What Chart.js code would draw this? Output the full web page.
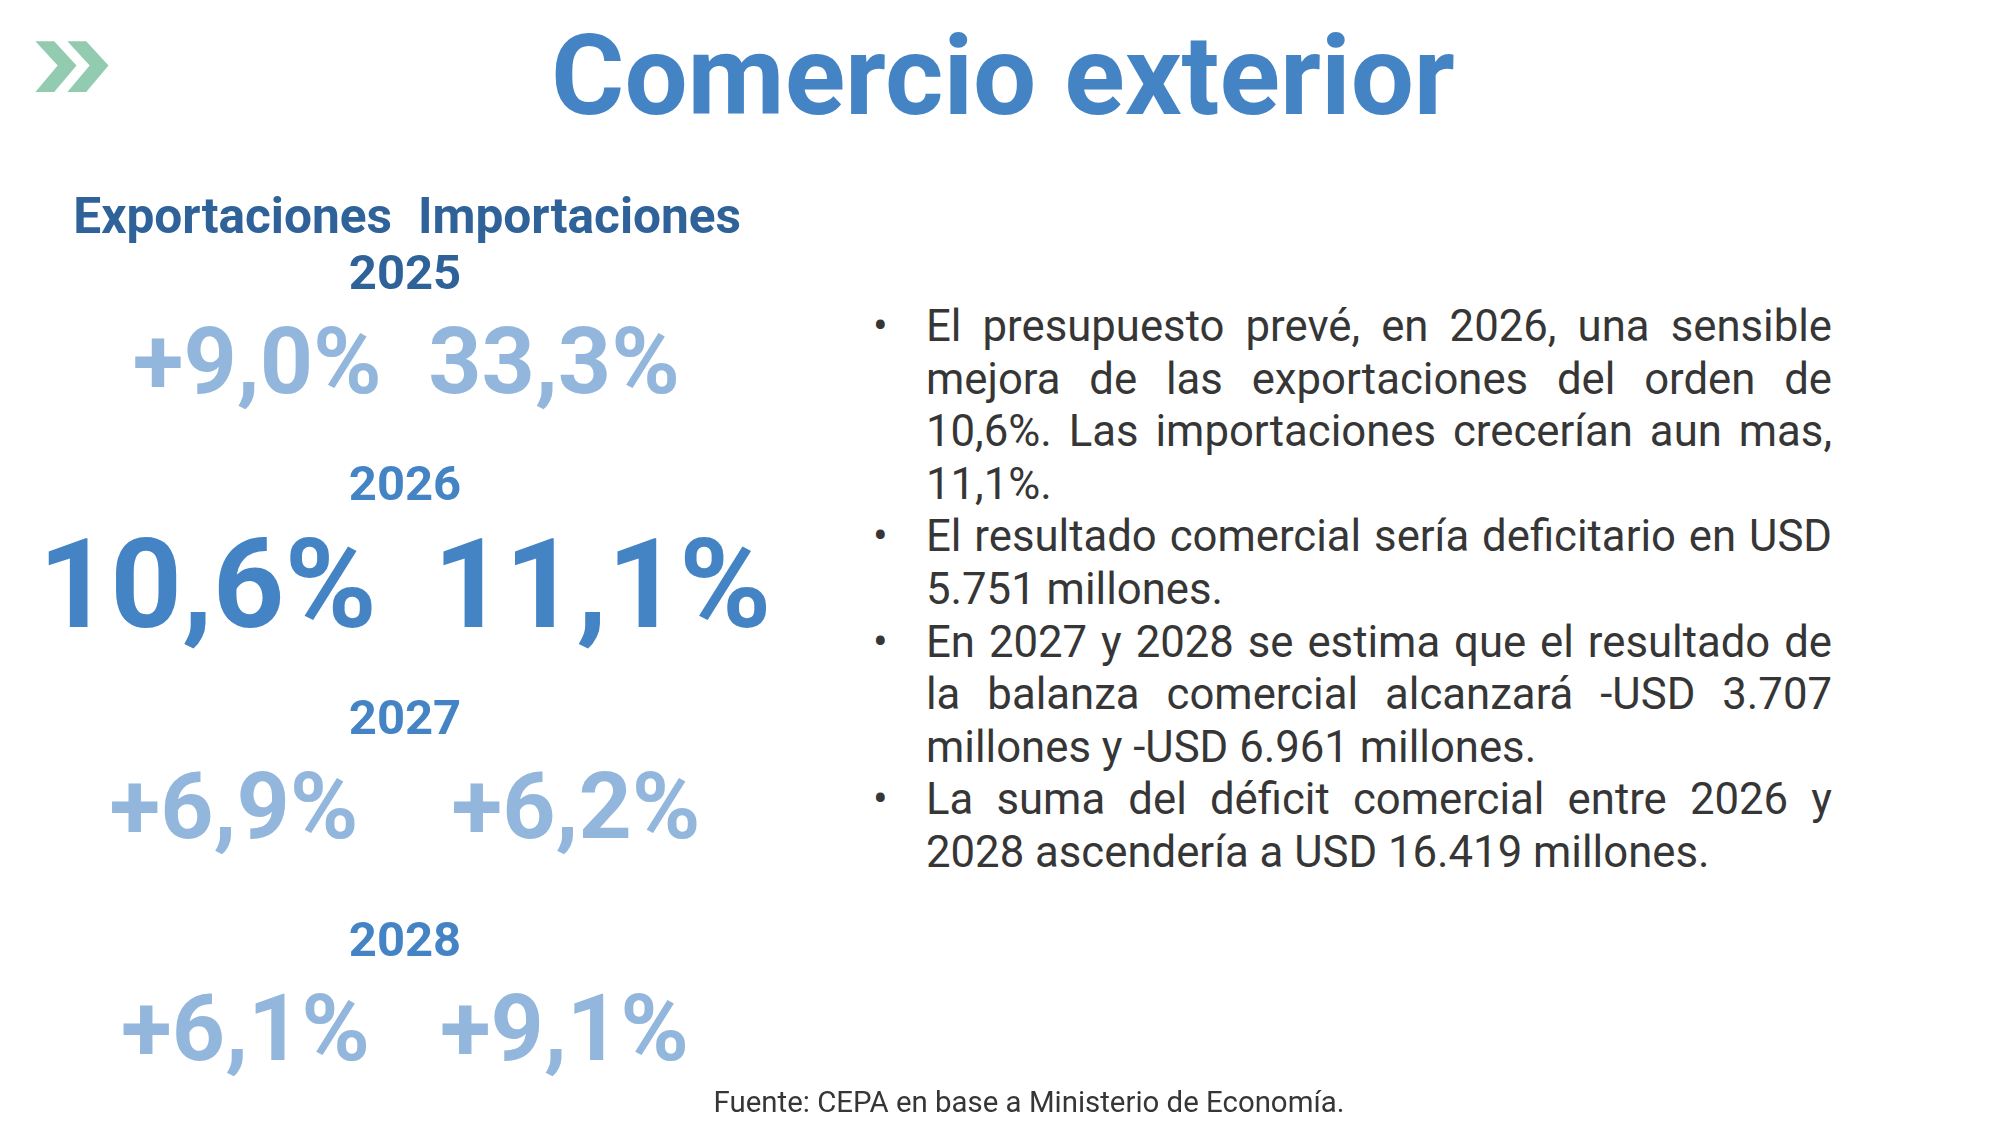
<!DOCTYPE html>
<html lang="es">
<head>
<meta charset="utf-8">
<title>Comercio exterior</title>
<script src="https://cdn.jsdelivr.net/npm/chart.js@4"></script>
<style>
  html, body { margin: 0; padding: 0; background: #fff; }
  body { width: 2000px; height: 1125px; position: relative; overflow: hidden; font-family: Roboto, "Noto Sans", sans-serif; }
  #chevrons { position: absolute; left: 0; top: 0; }
  #titulo {
    position: absolute; top: 20px; left: 1003px; transform: translateX(-50%);
    margin: 0; font-size: 112px; line-height: 1; font-weight: 700; color: #4584c4; white-space: nowrap;
  }
  #panel { position: absolute; left: 0; top: 0; }
  #puntos {
    position: absolute; left: 926px; top: 300px; width: 906px; margin: 0; padding: 0;
    list-style: none; font-size: 43.7px; line-height: 52.6px; color: #363636; text-align: justify;
  }
  #puntos li { position: relative; }
  #puntos li::before { content: "\2022"; position: absolute; left: -53px; }
  #fuente {
    position: absolute; top: 1088px; left: 1029px; transform: translateX(-50%);
    font-size: 29.4px; line-height: 1; color: #363636; white-space: nowrap;
  }
</style>
</head>
<body>
<svg id="chevrons" width="130" height="110">
  <polygon points="35.4,41.2 54.2,41.2 76.5,65.5 54.2,92 35.4,92 57.7,65.5" fill="#93cbb0"/>
  <polygon points="67.4,41.2 86.2,41.2 108.5,65.5 86.2,92 67.4,92 89.7,65.5" fill="#93cbb0"/>
</svg>
<h1 id="titulo">Comercio exterior</h1>
<canvas id="panel" width="810" height="1125"></canvas>
<ul id="puntos">
  <li>El presupuesto prevé, en 2026, una sensible mejora de las exportaciones del orden de 10,6%. Las importaciones crecerían aun mas, 11,1%.</li>
  <li>El resultado comercial sería deficitario en USD 5.751 millones.</li>
  <li>En 2027 y 2028 se estima que el resultado de la balanza comercial alcanzará -USD 3.707 millones y -USD 6.961 millones.</li>
  <li>La suma del déficit comercial entre 2026 y 2028 ascendería a USD 16.419 millones.</li>
</ul>
<div id="fuente">Fuente: CEPA en base a Ministerio de Economía.</div>
<script>
// variación anual (%)
const years = ['2025', '2026', '2027', '2028'];
const columnas = ['Exportaciones', 'Importaciones'];
const exportaciones = [9.0, 10.6, 6.9, 6.1];
const importaciones = [33.3, 11.1, 6.2, 9.1];
// si la cifra se muestra con "+"
const exportSigno = [true, false, true, true];
const importSigno = [false, false, true, true];
const destacado = '2026';

function fmt(v, signo) {
  return (signo ? '+' : '') + v.toFixed(1).replace('.', ',') + '%';
}

const colores = {
  oscuro: '#2e6299',
  medio: '#4584c4',
  claro: '#93b7dc',
};
// espacio entre columnas, en em de cada fila
const separacion = [0.5, 0.45, 1.0, 0.75];

const rowText = {
  id: 'rowText',
  afterDatasetsDraw(chart) {
    const ctx = chart.ctx;
    const exp = chart.getDatasetMeta(0).data;
    const imp = chart.getDatasetMeta(1).data;
    ctx.save();
    let firstYearBase = 0;
    years.forEach((year, i) => {
      const y = exp[i].y;
      const cx = (exp[i].x + imp[i].x) / 2;
      const big = year === destacado;
      const size = big ? 125 : 93;
      const cap = size * 0.711;
      const gap = separacion[i] * size;
      ctx.font = `700 ${size}px Roboto`;
      ctx.fillStyle = big ? colores.medio : colores.claro;
      ctx.textBaseline = 'alphabetic';
      ctx.textAlign = 'right';
      ctx.fillText(fmt(chart.data.datasets[0].data[i].v, exportSigno[i]), cx - gap / 2, y + cap / 2);
      ctx.textAlign = 'left';
      ctx.fillText(fmt(chart.data.datasets[1].data[i].v, importSigno[i]), cx + gap / 2, y + cap / 2);

      const yearBase = y - cap / 2 - 38;
      if (i === 0) firstYearBase = yearBase;
      ctx.font = '700 49px Roboto';
      ctx.fillStyle = i === 0 ? colores.oscuro : colores.medio;
      ctx.textAlign = 'center';
      ctx.fillText(year, cx, yearBase);
    });
    // encabezado de columnas
    const hx = (exp[0].x + imp[0].x) / 2;
    ctx.font = '700 49.6px Roboto';
    ctx.fillStyle = colores.oscuro;
    ctx.textAlign = 'right';
    ctx.fillText(chart.data.datasets[0].label, hx - 13, firstYearBase - 56);
    ctx.textAlign = 'left';
    ctx.fillText(chart.data.datasets[1].label, hx + 13, firstYearBase - 56);
    ctx.restore();
  },
};

function draw() {
  new Chart(document.getElementById('panel'), {
    type: 'scatter',
    data: {
      datasets: [
        {
          label: columnas[0],
          data: years.map((y, i) => ({ x: columnas[0], y, v: exportaciones[i] })),
          pointRadius: 0,
        },
        {
          label: columnas[1],
          data: years.map((y, i) => ({ x: columnas[1], y, v: importaciones[i] })),
          pointRadius: 0,
        },
      ],
    },
    options: {
      responsive: false,
      animation: false,
      layout: { padding: { top: 360, bottom: 98, left: 0, right: 0 } },
      scales: {
        x: { type: 'category', labels: columnas, offset: true, display: false },
        y: { type: 'category', labels: years, offset: false, display: false },
      },
      plugins: {
        legend: { display: false },
        tooltip: { enabled: false },
      },
    },
    plugins: [rowText],
  });
}

if (document.fonts && document.fonts.load) {
  Promise.all([
    document.fonts.load('700 50px Roboto'),
    document.fonts.load('400 43px Roboto'),
  ]).then(draw, draw);
} else {
  draw();
}
</script>
</body>
</html>
